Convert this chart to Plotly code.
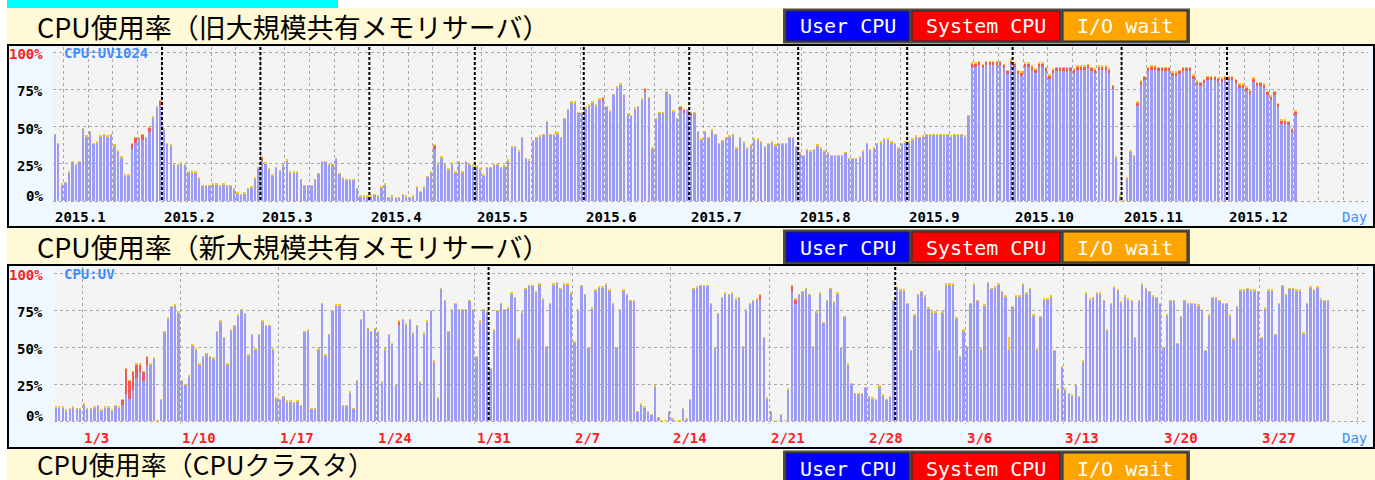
import pandas as pd
import plotly.graph_objects as go

W, H = 1375, 480

# ------------------------------------------------------------------ data
TITLES = ["CPU使用率（旧大規模共有メモリサーバ）",
          "CPU使用率（新大規模共有メモリサーバ）",
          "CPU使用率（CPUクラスタ）"]
LEGEND_LABELS = ["User CPU", "System CPU", "I/O wait"]
LEGEND_COLORS = ["#0000ff", "#ff0000", "#ffa500"]
HOST_LABELS = ["CPU:UV1024", "CPU:UV"]
Y_TICKS = [0, 25, 50, 75, 100]
Y_LABELS = ["0%", "25%", "50%", "75%", "100%"]

# chart 1 : daily values, 2015
C1_START = "2015-01-01"
C1_MONTH_LABELS = ["2015.1", "2015.2", "2015.3", "2015.4", "2015.5", "2015.6",
                   "2015.7", "2015.8", "2015.9", "2015.10", "2015.11", "2015.12"]
C1_USER = [
    44, 38, 11, 12, 19, 26, 24, 26, 48, 43,
    46, 38, 39, 43, 44, 43, 44, 37, 33, 29,
    17, 17, 35, 39, 42, 41, 42, 46, 56, 63,
    64, 48, 38, 37, 24, 24, 25, 24, 19, 19,
    19, 15, 10, 10, 10, 11, 11, 10, 11, 10,
    10, 8, 5, 4, 5, 8, 9, 15, 22, 27,
    25, 21, 17, 22, 20, 24, 27, 19, 19, 19,
    14, 10, 10, 10, 14, 18, 26, 26, 24, 24,
    28, 18, 15, 14, 14, 14, 8, 3, 3, 3,
    3, 4, 3, 9, 11, 2, 3, 2, 2, 4,
    3, 2, 3, 9, 6, 9, 16, 19, 35, 25,
    29, 24, 21, 25, 19, 26, 19, 26, 24, 23,
    23, 21, 17, 22, 22, 24, 24, 22, 23, 27,
    36, 36, 33, 42, 28, 27, 40, 42, 43, 44,
    53, 44, 44, 45, 42, 55, 61, 66, 66, 59,
    59, 62, 64, 66, 64, 68, 67, 63, 60, 71,
    76, 78, 71, 58, 57, 62, 63, 68, 73, 69,
    35, 55, 59, 59, 73, 71, 60, 55, 61, 59,
    61, 57, 59, 46, 41, 46, 42, 47, 44, 38,
    40, 42, 43, 44, 35, 42, 39, 35, 37, 41,
    41, 39, 36, 38, 39, 37, 38, 38, 38, 42,
    42, 36, 32, 30, 34, 33, 34, 37, 35, 33,
    32, 30, 30, 30, 30, 32, 28, 28, 28, 29,
    33, 38, 34, 35, 38, 39, 41, 41, 39, 38,
    35, 38, 39, 39, 41, 43, 42, 43, 44, 44,
    44, 44, 44, 44, 44, 43, 44, 44, 44, 43,
    57, 90, 90, 91, 89, 91, 91, 91, 91, 91,
    89, 85, 92, 90, 85, 84, 90, 90, 88, 86,
    90, 90, 87, 82, 86, 87, 87, 87, 87, 87,
    86, 88, 88, 88, 89, 87, 86, 88, 88, 88,
    86, 75, 29, 3, 0, 15, 33, 30, 64, 78,
    81, 87, 88, 88, 87, 87, 87, 87, 84, 84,
    85, 87, 87, 87, 82, 78, 77, 79, 81, 81,
    81, 80, 80, 81, 81, 81, 79, 76, 76, 74,
    72, 80, 77, 77, 76, 71, 68, 71, 63, 52,
    52, 51, 46, 58,
]
C1_SYSTEM = [
    0, 0, 0, 0, 0, 0, 0, 0, 0, 0,
    0, 0, 0, 0, 0, 0, 0, 0, 0, 0,
    0, 0, 3, 3, 0, 3, 0, 3, 0, 0,
    3, 0, 0, 0, 0, 0, 0, 0, 0, 0,
    0, 0, 0, 0, 0, 0, 0, 0, 0, 0,
    0, 0, 0, 0, 0, 0, 0, 0, 0, 2,
    0, 0, 0, 0, 0, 0, 0, 0, 0, 0,
    0, 0, 0, 0, 0, 0, 0, 0, 0, 0,
    0, 0, 0, 0, 0, 0, 0, 0, 0, 0,
    0, 0, 0, 0, 0, 0, 0, 0, 0, 0,
    0, 0, 0, 0, 0, 0, 0, 0, 2, 0,
    0, 0, 0, 0, 0, 0, 0, 0, 0, 0,
    0, 0, 0, 0, 0, 0, 0, 0, 0, 0,
    0, 0, 0, 0, 0, 0, 0, 0, 0, 0,
    0, 0, 0, 0, 0, 0, 0, 0, 0, 0,
    0, 0, 0, 0, 0, 0, 2, 0, 0, 0,
    0, 0, 0, 0, 0, 0, 0, 0, 2, 0,
    0, 0, 0, 0, 0, 0, 0, 0, 2, 2,
    0, 2, 0, 0, 0, 0, 0, 0, 0, 0,
    0, 0, 0, 0, 0, 0, 0, 0, 0, 0,
    0, 0, 0, 0, 0, 0, 0, 0, 0, 0,
    0, 0, 0, 0, 0, 0, 0, 0, 0, 0,
    0, 0, 0, 0, 0, 0, 0, 0, 0, 0,
    0, 0, 0, 0, 0, 0, 0, 0, 0, 0,
    0, 0, 0, 0, 0, 0, 0, 0, 0, 0,
    0, 0, 0, 0, 0, 0, 0, 0, 0, 0,
    0, 2, 2, 2, 2, 2, 2, 2, 2, 2,
    2, 2, 2, 2, 2, 2, 2, 2, 2, 2,
    2, 2, 2, 2, 2, 2, 2, 2, 2, 2,
    2, 2, 2, 2, 2, 2, 2, 2, 2, 2,
    2, 2, 0, 0, 0, 0, 0, 0, 2, 2,
    2, 2, 2, 2, 2, 2, 2, 2, 2, 2,
    2, 2, 2, 2, 2, 2, 2, 2, 2, 2,
    2, 2, 2, 2, 2, 2, 2, 2, 2, 2,
    2, 2, 2, 2, 2, 2, 2, 2, 2, 2,
    2, 2, 2, 2,
]
C1_IOWAIT = [
    1, 1, 1, 1, 1, 1, 1, 1, 1, 1, 1, 1, 1, 1, 1, 1, 1, 1, 1, 1,
    1, 1, 1, 1, 1, 1, 1, 1, 1, 1, 1, 1, 1, 1, 1, 1, 1, 1, 1, 1,
    1, 1, 1, 1, 1, 1, 1, 1, 1, 1, 1, 1, 1, 1, 1, 1, 1, 1, 1, 1,
    1, 1, 1, 1, 1, 1, 1, 1, 1, 1, 1, 1, 1, 1, 1, 1, 1, 1, 1, 1,
    1, 1, 1, 1, 1, 1, 1, 1, 1, 1, 1, 1, 1, 1, 1, 1, 1, 1, 1, 1,
    1, 1, 1, 1, 1, 1, 1, 1, 1, 1, 1, 1, 1, 1, 1, 1, 1, 1, 1, 1,
    1, 1, 1, 1, 1, 1, 1, 1, 1, 1, 1, 1, 1, 1, 1, 1, 1, 1, 1, 1,
    1, 1, 1, 1, 1, 1, 1, 1, 1, 1, 1, 1, 1, 1, 1, 1, 1, 1, 1, 1,
    1, 1, 1, 1, 1, 1, 1, 1, 1, 1, 1, 1, 1, 1, 1, 1, 1, 1, 1, 1,
    1, 1, 1, 1, 1, 1, 1, 1, 1, 1, 1, 1, 1, 1, 1, 1, 1, 1, 1, 1,
    1, 1, 1, 1, 1, 1, 1, 1, 1, 1, 1, 1, 1, 1, 1, 1, 1, 1, 1, 1,
    1, 1, 1, 1, 1, 1, 1, 1, 1, 1, 1, 1, 1, 1, 1, 1, 1, 1, 1, 1,
    1, 1, 1, 1, 1, 1, 1, 1, 1, 1, 1, 1, 1, 1, 1, 1, 1, 1, 1, 1,
    1, 1, 1, 1, 1, 1, 1, 1, 1, 1, 1, 1, 1, 1, 1, 1, 1, 1, 1, 1,
    1, 1, 1, 1, 1, 1, 1, 1, 1, 1, 1, 1, 1, 1, 1, 1, 1, 1, 1, 1,
    1, 1, 1, 1, 1, 1, 1, 1, 1, 1, 1, 1, 1, 1, 1, 1, 1, 1, 1, 1,
    1, 1, 1, 1, 1, 1, 1, 1, 1, 1, 1, 1, 1, 1, 1, 1, 1, 1, 1, 1,
    1, 1, 1, 1, 1, 1, 1, 1, 1, 1, 1, 1, 1, 1,
]

# chart 2 : 6-hourly values, 2016 (4 per day)
C2_START = "2016-01-01"
C2_WEEK_LABELS = ["1/3", "1/10", "1/17", "1/24", "1/31", "2/7", "2/14",
                  "2/21", "2/28", "3/6", "3/13", "3/20", "3/27"]
C2_USER = [
    9, 9, 9, 7, 8, 9, 8, 8, 11, 8,
    8, 9, 10, 7, 9, 9, 7, 10, 9, 11,
    18, 15, 21, 29, 33, 27, 37, 38, 42, 0,
    14, 60, 69, 77, 78, 73, 27, 24, 30, 51,
    48, 38, 43, 45, 43, 42, 60, 67, 56, 38,
    61, 64, 71, 75, 72, 44, 58, 48, 58, 67,
    64, 64, 48, 15, 14, 16, 13, 13, 12, 13,
    10, 60, 61, 8, 8, 48, 79, 44, 58, 74,
    78, 78, 10, 10, 19, 8, 27, 68, 74, 62,
    60, 62, 60, 26, 48, 58, 52, 24, 65, 68,
    65, 68, 59, 64, 26, 59, 67, 74, 40, 15,
    89, 81, 60, 75, 79, 75, 75, 75, 81, 75,
    43, 67, 75, 73, 35, 61, 74, 79, 75, 76,
    86, 83, 55, 73, 89, 91, 91, 87, 92, 82,
    50, 79, 92, 93, 89, 92, 92, 86, 53, 75,
    91, 85, 49, 76, 88, 90, 90, 92, 88, 79,
    49, 75, 88, 85, 81, 81, 6, 11, 9, 6,
    4, 23, 2, 0, 0, 6, 1, 0, 0, 8,
    1, 14, 89, 90, 91, 91, 91, 79, 49, 72,
    83, 86, 85, 86, 82, 83, 50, 75, 79, 81,
    82, 82, 56, 15, 6, 0, 0, 4, 0, 21,
    87, 79, 85, 87, 89, 85, 50, 73, 86, 66,
    81, 89, 80, 86, 49, 70, 38, 25, 18, 18,
    18, 22, 16, 15, 14, 23, 17, 14, 16, 81,
    90, 88, 88, 79, 47, 71, 85, 87, 84, 76,
    73, 73, 47, 73, 92, 92, 92, 69, 43, 61,
    50, 79, 92, 81, 48, 78, 93, 89, 90, 92,
    87, 84, 48, 77, 84, 84, 92, 86, 89, 71,
    48, 70, 82, 82, 84, 47, 21, 36, 21, 18,
    17, 24, 16, 40, 86, 82, 83, 86, 86, 81,
    61, 79, 90, 88, 80, 84, 82, 81, 56, 81,
    92, 89, 87, 84, 83, 79, 49, 71, 81, 81,
    52, 70, 81, 79, 79, 79, 78, 75, 47, 71,
    83, 83, 81, 79, 79, 71, 55, 77, 88, 88,
    89, 88, 88, 87, 56, 76, 88, 88, 58, 79,
    91, 85, 89, 89, 88, 88, 59, 79, 90, 88,
    90, 82, 81, 81,
]
C2_SYSTEM = [
    0, 0, 0, 0, 0, 0, 0, 0, 0, 0,
    0, 0, 0, 0, 0, 0, 0, 0, 0, 3,
    17, 12, 12, 9, 5, 6, 6, 0, 0, 0,
    0, 0, 0, 0, 0, 0, 0, 0, 0, 0,
    0, 0, 0, 0, 0, 0, 0, 0, 0, 0,
    0, 0, 0, 0, 0, 0, 0, 0, 0, 0,
    0, 0, 0, 0, 0, 0, 0, 0, 0, 0,
    0, 0, 0, 0, 0, 0, 0, 0, 0, 0,
    0, 0, 0, 0, 0, 0, 0, 0, 0, 0,
    0, 0, 0, 0, 0, 0, 0, 0, 2, 0,
    0, 0, 0, 0, 0, 0, 0, 0, 0, 0,
    0, 0, 0, 0, 0, 0, 0, 0, 0, 0,
    0, 0, 0, 0, 0, 0, 0, 0, 0, 0,
    0, 0, 0, 0, 0, 0, 0, 0, 0, 0,
    0, 0, 0, 0, 0, 0, 0, 0, 0, 0,
    0, 0, 0, 0, 0, 0, 0, 0, 0, 0,
    0, 0, 0, 0, 0, 0, 0, 0, 0, 0,
    0, 0, 0, 0, 0, 0, 0, 0, 0, 0,
    0, 0, 0, 0, 0, 0, 0, 0, 0, 0,
    0, 0, 0, 0, 0, 0, 0, 0, 0, 0,
    0, 3, 0, 0, 0, 0, 0, 0, 0, 0,
    4, 3, 0, 0, 0, 0, 0, 0, 0, 0,
    0, 0, 0, 0, 0, 0, 0, 0, 0, 0,
    0, 0, 0, 0, 0, 0, 0, 0, 0, 0,
    0, 0, 0, 0, 0, 0, 0, 0, 0, 0,
    0, 0, 0, 0, 0, 0, 0, 0, 0, 0,
    0, 0, 0, 0, 0, 0, 0, 0, 0, 0,
    0, 0, 0, 0, 0, 0, 0, 0, 0, 0,
    0, 0, 0, 0, 0, 0, 0, 0, 0, 0,
    0, 0, 0, 0, 0, 0, 0, 0, 0, 0,
    0, 0, 0, 0, 0, 0, 0, 0, 0, 0,
    0, 0, 0, 0, 0, 0, 0, 0, 0, 0,
    0, 0, 0, 0, 0, 0, 0, 0, 0, 0,
    0, 0, 0, 0, 0, 0, 0, 0, 0, 0,
    0, 0, 0, 0, 0, 0, 0, 0, 0, 0,
    0, 0, 0, 0, 0, 0, 0, 0, 0, 0,
    0, 0, 0, 0,
]
C2_IOWAIT = [
    1, 1, 1, 1, 1, 1, 1, 1, 1, 1,
    1, 1, 1, 1, 1, 1, 1, 1, 1, 1,
    1, 1, 1, 1, 1, 1, 1, 1, 1, 1,
    1, 1, 1, 1, 1, 1, 1, 1, 1, 1,
    1, 1, 1, 1, 1, 1, 1, 1, 1, 1,
    1, 1, 1, 1, 1, 1, 1, 1, 1, 1,
    1, 1, 1, 1, 1, 1, 1, 1, 1, 1,
    1, 1, 1, 1, 1, 1, 1, 1, 1, 1,
    1, 1, 1, 1, 1, 1, 1, 1, 1, 1,
    1, 1, 1, 1, 1, 1, 1, 1, 1, 1,
    1, 1, 1, 1, 1, 1, 1, 1, 1, 1,
    1, 1, 1, 1, 1, 1, 1, 1, 1, 1,
    1, 1, 1, 1, 1, 1, 1, 1, 1, 1,
    1, 1, 1, 1, 1, 1, 1, 1, 1, 1,
    1, 1, 1, 1, 1, 1, 1, 1, 1, 1,
    1, 1, 1, 1, 1, 1, 1, 1, 1, 1,
    1, 1, 1, 1, 1, 1, 1, 1, 1, 1,
    1, 1, 1, 1, 1, 1, 1, 1, 1, 1,
    1, 1, 1, 1, 1, 1, 1, 1, 1, 1,
    1, 1, 1, 1, 1, 1, 1, 1, 1, 1,
    1, 1, 1, 1, 1, 1, 1, 1, 1, 1,
    1, 1, 1, 1, 1, 1, 1, 1, 1, 1,
    1, 1, 1, 1, 1, 1, 1, 1, 1, 1,
    1, 1, 1, 1, 1, 1, 1, 1, 1, 1,
    1, 1, 1, 1, 1, 1, 1, 1, 1, 1,
    1, 1, 1, 1, 1, 1, 1, 1, 1, 1,
    1, 1, 1, 1, 1, 1, 1, 1, 1, 1,
    1, 1, 9, 1, 1, 1, 1, 1, 1, 1,
    1, 1, 1, 1, 1, 1, 1, 1, 1, 1,
    1, 1, 1, 1, 1, 1, 1, 1, 1, 1,
    1, 1, 1, 1, 1, 1, 1, 1, 1, 1,
    1, 1, 1, 1, 1, 1, 1, 1, 1, 1,
    1, 1, 1, 1, 1, 1, 1, 1, 1, 1,
    1, 1, 1, 1, 1, 1, 1, 1, 1, 1,
    1, 1, 1, 1, 1, 1, 1, 1, 1, 1,
    1, 1, 1, 1, 1, 1, 1, 1, 1, 1,
    1, 1, 1, 1,
]

assert len(C1_USER) == len(C1_SYSTEM) == len(C1_IOWAIT), (len(C1_USER), len(C1_SYSTEM), len(C1_IOWAIT))
assert len(C2_USER) == len(C2_SYSTEM) == len(C2_IOWAIT), (len(C2_USER), len(C2_SYSTEM), len(C2_IOWAIT))

# ------------------------------------------------------------------ style
BAR_COLORS = ["#9c9cf6", "#f05a5a", "#f8c820"]
YELLOW_BG = "#fff9d6"
BLUE_BG = "#f0f8ff"
PLOT_BG = "#f4f4f4"
GRID = "#a9a9a9"
MONO = "DejaVu Sans Mono"
CJK = "Noto Sans CJK JP"
DAY_MS = 86400000


def X(px):
    return px / W


def Y(py):
    return 1 - py / H


def rect(x0, y0, x1, y1, fill, line_color=None, lw=0, layer="below"):
    return dict(type="rect", xref="paper", yref="paper",
                x0=X(x0), x1=X(x1), y0=Y(y1), y1=Y(y0),
                fillcolor=fill, line=dict(color=line_color or fill, width=lw),
                layer=layer)


def label(x, y, text, size=14, color="black", xanchor="left", family=MONO, bold=True):
    return dict(xref="paper", yref="paper", x=X(x), y=Y(y), text=("<b>%s</b>" % text) if bold else text,
                showarrow=False, xanchor=xanchor, yanchor="middle",
                font=dict(family=family, size=size, color=color))


charts = [
    dict(box=(8, 45, 1374, 227), plot=(53, 47, 1368, 203), y0=201, y100=52,
         start=pd.Timestamp(C1_START), px_per_day=3.515, tick0="2015-01-04",
         user=C1_USER, system=C1_SYSTEM, io=C1_IOWAIT, freq="D", slot_h=24,
         host=HOST_LABELS[0]),
    dict(box=(8, 265, 1374, 448), plot=(54, 267, 1368, 424), y0=421, y100=273,
         start=pd.Timestamp(C2_START), px_per_day=14.02, tick0="2016-01-03",
         user=C2_USER, system=C2_SYSTEM, io=C2_IOWAIT, freq="6h", slot_h=6,
         host=HOST_LABELS[1]),
]

fig = go.Figure()
shapes = []
annotations = []

# page background
shapes.append(rect(7, 0, 338, 8, "#00ffff"))
shapes.append(rect(7, 8, W, H, YELLOW_BG))

# title bands with legend buttons
for band_top, title in zip([8, 229, 450], TITLES):
    if band_top < 400:
        annotations.append(label(35, band_top + 18, title, size=27, family=CJK, bold=False))
    else:
        annotations.append(label(35, 463.5, title, size=26, family=CJK, bold=False))
    shapes.append(rect(783, band_top + 0.5, 1190, band_top + 35.5, "#4d4d4d"))
    btns = [(786, 909), (912, 1060), (1063, 1187)]
    for (bx0, bx1), lab, col in zip(btns, LEGEND_LABELS, LEGEND_COLORS):
        shapes.append(rect(bx0, band_top + 3, bx1, band_top + 33, col, "#2a2a2a", 1))
        annotations.append(label((bx0 + bx1) / 2, band_top + 18.5, lab, size=20,
                                 color="white", xanchor="center", bold=False))

layout_axes = {}
for i, ch in enumerate(charts, start=1):
    bx0, by0, bx1, by1 = ch["box"]
    px0, py0, px1, py1 = ch["plot"]
    shapes.append(rect(bx0, by0, bx1, by1, BLUE_BG, "black", 2))
    shapes.append(rect(px0, py0, px1, py1, PLOT_BG))

    per = (ch["y0"] - ch["y100"]) / 100.0
    y_top = 100 + (ch["y100"] - py0) / per
    y_bot = -(py1 - ch["y0"]) / per
    x_end = ch["start"] + pd.Timedelta(days=(px1 - px0) / ch["px_per_day"])

    n = len(ch["user"])
    xs = pd.date_range(ch["start"], periods=n, freq=ch["freq"]) + pd.Timedelta(hours=ch["slot_h"] / 2)
    width = 0.68 * ch["slot_h"] * 3600000
    xa = "x" if i == 1 else "x%d" % i
    ya = "y" if i == 1 else "y%d" % i
    for vals, col in zip([ch["user"], ch["system"], ch["io"]], BAR_COLORS):
        fig.add_trace(go.Bar(x=xs, y=vals, width=width, marker=dict(color=col, line=dict(width=0)),
                             xaxis=xa, yaxis=ya, hoverinfo="skip"))

    layout_axes["xaxis" if i == 1 else "xaxis%d" % i] = dict(
        type="date", domain=[X(px0), X(px1)], range=[ch["start"], x_end],
        anchor=ya, tick0=ch["tick0"], dtick=7 * DAY_MS, showgrid=True,
        gridcolor=GRID, griddash="3px,3px", gridwidth=1, showticklabels=False,
        ticks="", zeroline=False, showline=False, fixedrange=True)
    layout_axes["yaxis" if i == 1 else "yaxis%d" % i] = dict(
        domain=[Y(py1), Y(py0)], range=[y_bot, y_top], anchor=xa,
        tickvals=Y_TICKS, showgrid=True, gridcolor=GRID, griddash="3px,3px",
        gridwidth=1, showticklabels=False, ticks="", zeroline=False,
        showline=False, fixedrange=True)

    # month separators (black dotted)
    data_end = xs[-1]
    for ms in pd.date_range(ch["start"], data_end, freq="MS")[1:]:
        shapes.append(dict(type="line", xref=xa, yref="paper", x0=ms, x1=ms,
                           y0=Y(ch["y0"] - 1), y1=Y(py0), layer="above",
                           line=dict(color="black", width=2, dash="3px,2px")))

    # y labels
    for v, t in zip(Y_TICKS, Y_LABELS):
        ypix = ch["y0"] - v * per
        if v == 0:
            ypix -= 5
        else:
            ypix += 2
        annotations.append(label(45, ypix, t, size=14,
                                 color="#ff2020" if v == 100 else "black", xanchor="right"))
    annotations.append(label(62, ch["y100"] + 1, ch["host"], size=14, color="#3f8cff"))
    annotations.append(label(1340, by1 - 10.5, "Day", size=14, color="#3f8cff", bold=False))

# chart 1 month labels
for lab in C1_MONTH_LABELS:
    yr, mo = lab.split(".")
    annotations.append(dict(xref="x", yref="paper", x=pd.Timestamp(int(yr), int(mo), 1),
                            y=Y(217), text="<b>%s</b>" % lab, showarrow=False,
                            xanchor="left", yanchor="middle",
                            font=dict(family=MONO, size=14, color="black")))
# chart 2 week labels
for lab in C2_WEEK_LABELS:
    mo, dd = lab.split("/")
    annotations.append(dict(xref="x2", yref="paper", x=pd.Timestamp(2016, int(mo), int(dd)),
                            y=Y(438), text="<b>%s</b>" % lab, showarrow=False,
                            xanchor="left", yanchor="middle",
                            font=dict(family=MONO, size=14, color="#ff2020")))

fig.update_layout(
    width=W, height=H, margin=dict(l=0, r=0, t=0, b=0),
    paper_bgcolor="white", plot_bgcolor="rgba(0,0,0,0)",
    barmode="stack", showlegend=False, hovermode=False,
    shapes=shapes, annotations=annotations, **layout_axes)

fig.write_html("out.html", config={"displayModeBar": False, "staticPlot": True},
               post_script="document.body.style.margin='0';document.body.style.overflow='hidden';")
